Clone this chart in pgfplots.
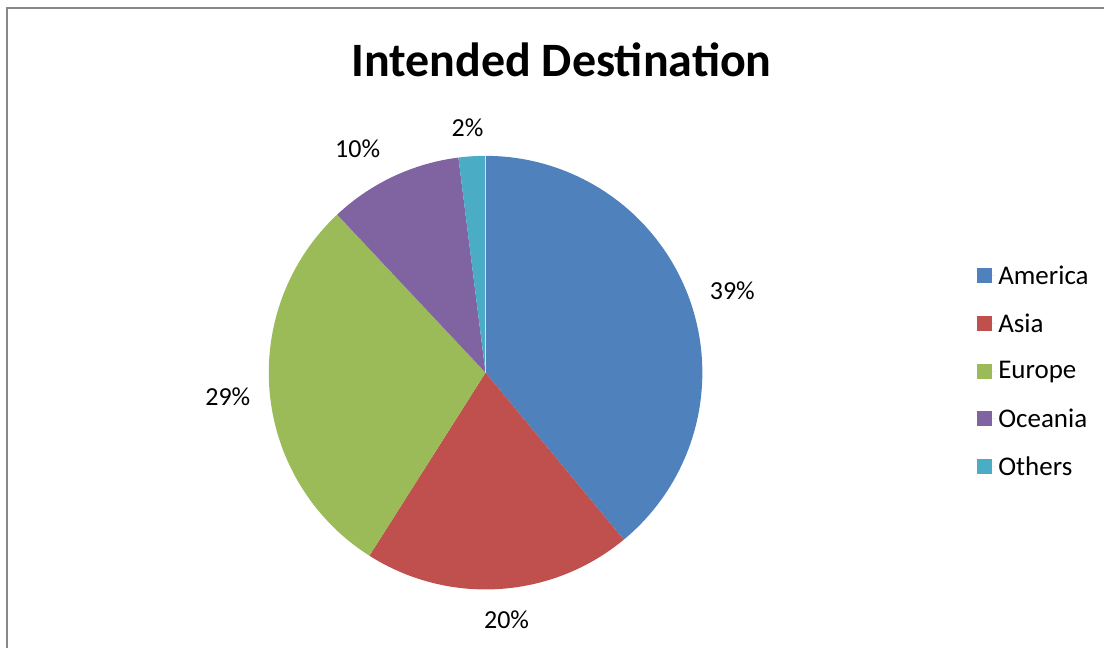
\documentclass[border=0pt]{standalone}
\usepackage{pgfplots}
\pgfplotsset{compat=1.18}
\usepackage{fontspec}
\setmainfont{Carlito}

\definecolor{cAmerica}{HTML}{4F81BD}
\definecolor{cAsia}{HTML}{C0504D}
\definecolor{cEurope}{HTML}{9BBB59}
\definecolor{cOceania}{HTML}{8064A2}
\definecolor{cOthers}{HTML}{4BACC6}
\definecolor{frame}{HTML}{888888}

% pie centre and radius, in picture pixels (y upwards)
\def\cx{486}
\def\cy{276}
\def\r{217}

\begin{document}
\begin{tikzpicture}
\begin{axis}[
    scale only axis,
    width=1105pt, height=649pt,
    xmin=0, xmax=1105, ymin=0, ymax=649,
    hide axis,
    clip=false,
    area legend,
    legend image code/.code={
        \path (0pt,0pt) -- (18pt,0pt);
        \fill[#1] (0pt,-7.5pt) rectangle (15pt,7.5pt);},
    legend style={
        at={(axis cs:978,277.5)}, anchor=west,
        draw=none, fill=none,
        font=\fontsize{27}{31}\selectfont,
        row sep=22pt,
        inner sep=0pt,
        nodes={inner sep=3pt},
    },
    legend cell align=left,
]
\path (axis cs:0,0) rectangle (axis cs:1105,649);

% shares in percent: America 39, Asia 20, Europe 29, Oceania 10, Others 2
% clockwise from 12 o'clock, 3.6 degrees per percent
\addplot[fill=cAmerica, draw=none, domain=90:-50.4, samples=90, variable=\t]
    ({\cx+\r*cos(t)}, {\cy+\r*sin(t)}) -- (axis cs:\cx,\cy) -- cycle;
\addlegendentry{America}
\addplot[fill=cAsia, draw=none, domain=-50.4:-122.4, samples=50, variable=\t]
    ({\cx+\r*cos(t)}, {\cy+\r*sin(t)}) -- (axis cs:\cx,\cy) -- cycle;
\addlegendentry{Asia}
\addplot[fill=cEurope, draw=none, domain=-122.4:-226.8, samples=70, variable=\t]
    ({\cx+\r*cos(t)}, {\cy+\r*sin(t)}) -- (axis cs:\cx,\cy) -- cycle;
\addlegendentry{Europe}
\addplot[fill=cOceania, draw=none, domain=-226.8:-262.8, samples=30, variable=\t]
    ({\cx+\r*cos(t)}, {\cy+\r*sin(t)}) -- (axis cs:\cx,\cy) -- cycle;
\addlegendentry{Oceania}
\addplot[fill=cOthers, draw=none, domain=-262.8:-270, samples=10, variable=\t]
    ({\cx+\r*cos(t)}, {\cy+\r*sin(t)}) -- (axis cs:\cx,\cy) -- cycle;
\addlegendentry{Others}

% faint light separator between Others and America
\draw[white!70!cOthers, line width=0.4pt] (axis cs:\cx,\cy) -- +(axis direction cs:0,\r);

\begin{scope}[every node/.style={font=\fontsize{26}{30}\selectfont, inner sep=0pt}]
\node at (axis cs:733,358) {39\%};
\node at (axis cs:507,29) {20\%};
\node at (axis cs:228,252) {29\%};
\node at (axis cs:358,500) {10\%};
\node at (axis cs:468,521) {2\%};
\end{scope}

\node[font=\fontsize{48}{56}\selectfont\bfseries, inner sep=0pt] at (axis cs:562,589) {Intended Destination};

\draw[frame, line width=2pt] (axis cs:7.5,0) -- (axis cs:7.5,641) -- (axis cs:1105,641);
\end{axis}
\end{tikzpicture}
\end{document}
